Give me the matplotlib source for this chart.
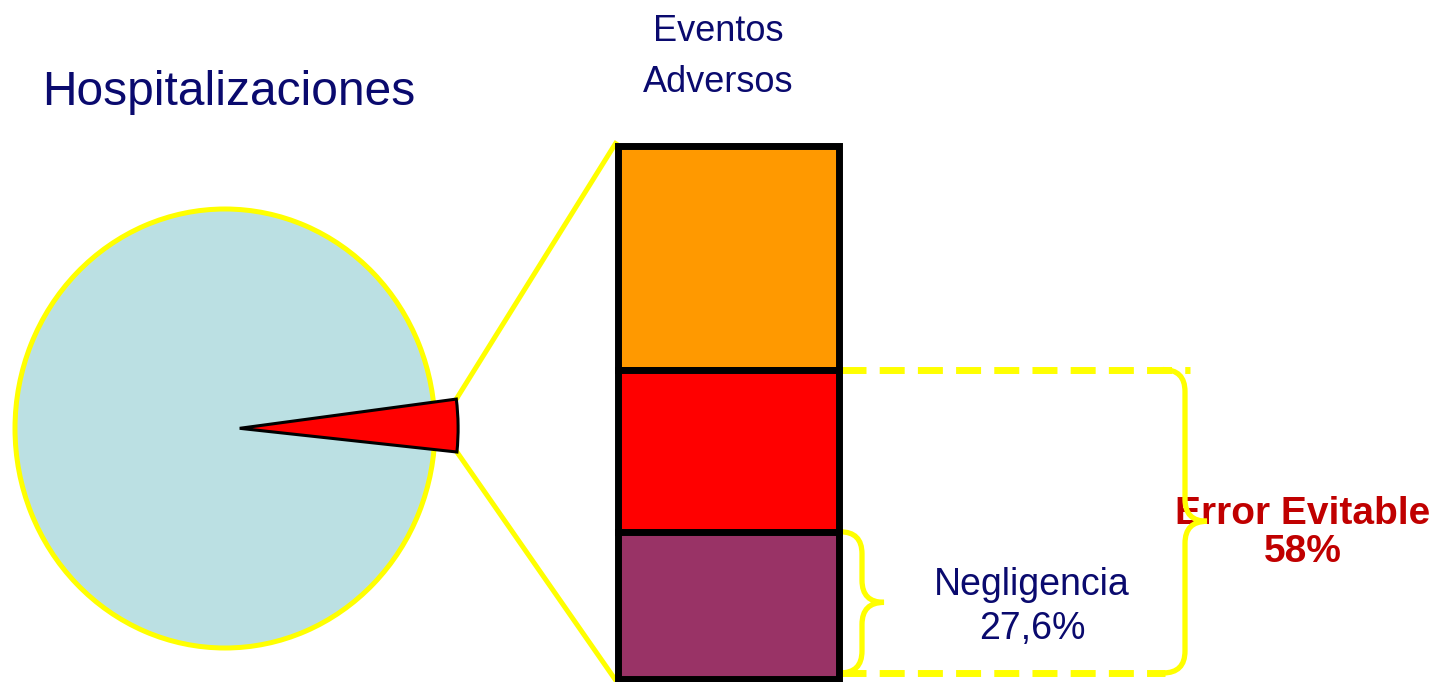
import matplotlib
matplotlib.use("Agg")
import matplotlib.pyplot as plt
from matplotlib.path import Path
from matplotlib.patches import PathPatch
import numpy as np

# datos
hosp_total = 100.0
eventos_adversos = 3.7          # % de hospitalizaciones con evento adverso
segmentos = ["Otros", "Error evitable (resto)", "Negligencia"]
valores = [42.0, 30.4, 27.6]    # % de eventos adversos (de arriba a abajo)
colores_bar = ["#FF9900", "#FF0000", "#993366"]
negligencia = 27.6
error_evitable = 58.0

AZUL = "#0A0A6E"
AMARILLO = "#FFFF00"
W, H = 1437, 682

fig = plt.figure(figsize=(W / 100, H / 100), dpi=100)
ax = fig.add_axes([0, 0, 1, 1])
ax.set_xlim(0, W)
ax.set_ylim(0, H)
ax.axis("off")

# pie de hospitalizaciones (eje propio, sin aspecto igual: se ve algo ovalado)
pax = fig.add_axes([15 / W, (H - 648) / H, 420 / W, 439 / H])
pax.pie([hosp_total], colors=["#BBE0E3"], radius=1.0,
        wedgeprops=dict(edgecolor=AMARILLO, linewidth=3.6))
ang = eventos_adversos / hosp_total * 360
rojos, _ = pax.pie([eventos_adversos, hosp_total - eventos_adversos],
                   colors=["#FF0000", "none"], radius=1.04,
                   startangle=-ang / 2 + 0.7, explode=[0.07, 0],
                   wedgeprops=dict(edgecolor="black", linewidth=2.2))
rojos[1].set_edgecolor("none")
pax.set_xlim(-1, 1)
pax.set_ylim(-1, 1)
pax.set_aspect("auto")
pax.axis("off")
for p in pax.patches:
    p.set_clip_on(False)

# barra apilada de eventos adversos
escala = 5.335
base = 3
xb, wb = 728, 221
abajo = base
bottoms = []
for v in valores[::-1]:
    bottoms.append(abajo)
    abajo += v * escala
bottoms = bottoms[::-1]
ax.bar([xb] * 3, [v * escala for v in valores], bottom=bottoms, width=wb,
       color=colores_bar, edgecolor="black", linewidth=5, zorder=3)
tope = base + sum(valores) * escala
izq, der = xb - wb / 2, xb + wb / 2

# lineas del pie a la barra
w = rojos[0]
cx, cy = w.center
pts = []
for t in (w.theta2, w.theta1):
    p = (cx + w.r * np.cos(np.radians(t)), cy + w.r * np.sin(np.radians(t)))
    pts.append(ax.transData.inverted().transform(pax.transData.transform(p)))
ax.plot([pts[0][0], izq - 2], [pts[0][1], tope + 2], color=AMARILLO, lw=3.6, zorder=2)
ax.plot([pts[1][0], izq - 2], [pts[1][1], base - 1], color=AMARILLO, lw=3.6, zorder=2)


def llave(x, y0, y1, d, lw=3.8, z=2):
    ym = (y0 + y1) / 2
    verts = [(x - d, y1), (x, y1), (x, y1 - d), (x, ym + d), (x, ym), (x + d, ym),
             (x, ym), (x, ym - d), (x, y0 + d), (x, y0), (x - d, y0)]
    codes = [Path.MOVETO, Path.CURVE3, Path.CURVE3, Path.LINETO, Path.CURVE3, Path.CURVE3,
             Path.CURVE3, Path.CURVE3, Path.LINETO, Path.CURVE3, Path.CURVE3]
    ax.add_patch(PathPatch(Path(verts, codes), fill=False, edgecolor=AMARILLO,
                           lw=lw, capstyle="round", zorder=z))


y_err = base + error_evitable * escala
y_neg = base + negligencia * escala
y_fin = base + 6
ax.plot([der + 2, 1190], [y_err, y_err], color=AMARILLO, lw=5, dashes=(3.6, 1.9), zorder=1)
ax.plot([der + 2, 1165], [y_fin, y_fin], color=AMARILLO, lw=5, dashes=(3.6, 1.9), zorder=1)
llave(1185, y_fin, y_err, 22, z=5)
llave(862, y_fin, y_neg, 22)

# textos
ax.text(42, H - 105, "Hospitalizaciones", color=AZUL, fontsize=34.5,
        family="Liberation Sans", va="baseline", ha="left")
ax.text(718, H - 57, "Eventos\nAdversos", color=AZUL, fontsize=26, linespacing=1.6,
        family="Liberation Sans", va="center", ha="center")
ax.text(1032, H - 607, "Negligencia\n27,6%", color=AZUL, fontsize=27, linespacing=1.3,
        family="Liberation Sans", va="center", ha="center")
ax.text(1303, H - 533, "Error Evitable\n58%", color="#C00000", fontsize=28,
        fontweight="bold", linespacing=1.05, family="Liberation Sans",
        va="center", ha="center", zorder=4)

fig.savefig("out.png", dpi=100)
